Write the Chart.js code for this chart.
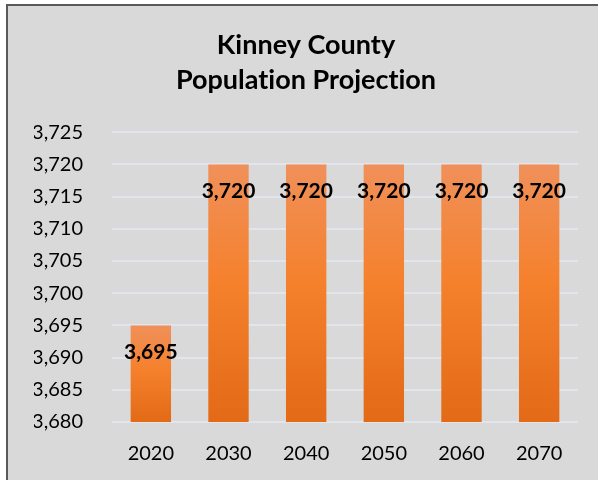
<!DOCTYPE html>
<html>
<head>
<meta charset="utf-8">
<script src="https://cdn.jsdelivr.net/npm/chart.js@4/dist/chart.umd.min.js"></script>
<style>
    html, body { margin: 0; padding: 0; background: #ffffff; overflow: hidden; }
    #frame {
        position: absolute;
        left: 6px;
        top: 4px;
        width: 600px;
        height: 486px;
        border: 2px solid #595959;
        background: #d9d9d9;
    }
    #wrap { position: absolute; left: 0; top: 0; width: 590px; height: 480px; }
</style>
</head>
<body>
<div id="frame"><div id="wrap"><canvas id="chart"></canvas></div></div>
<script>
const years = ['2020', '2030', '2040', '2050', '2060', '2070'];
const population = [3695, 3720, 3720, 3720, 3720, 3720];
// ZWNJ keeps Lato from fusing "ti" into a ligature
const titleLines = ['Kinney County', 'Populat\u200Cion Project\u200Cion'];
const yMin = 3680;
const yMax = 3725;
const yStep = 5;

const fontFamily = 'Lato, "Open Sans", sans-serif';
const fmt = v => v.toLocaleString('en-US');

// orange gradient per bar, lighter at the top
function barFill(ctx) {
    const chart = ctx.chart;
    const yScale = chart.scales.y;
    if (!yScale || ctx.type !== 'data') return '#f58231';
    const top = yScale.getPixelForValue(ctx.raw);
    const bottom = yScale.getPixelForValue(yMin);
    if (!isFinite(top) || !isFinite(bottom) || top === bottom) return '#f58231';
    const g = chart.ctx.createLinearGradient(0, top, 0, bottom);
    g.addColorStop(0, '#f0905a');
    g.addColorStop(0.45, '#f5812d');
    g.addColorStop(1, '#e36a17');
    return g;
}

// value labels inside the bars
const valueLabels = {
    id: 'valueLabels',
    afterDatasetsDraw(chart) {
        const ctx = chart.ctx;
        const meta = chart.getDatasetMeta(0);
        ctx.save();
        ctx.font = 'bold 21px ' + fontFamily;
        ctx.fillStyle = '#000000';
        ctx.textAlign = 'center';
        ctx.textBaseline = 'middle';
        meta.data.forEach((bar, i) => {
            ctx.fillText(fmt(population[i]), bar.x, bar.y + 27);
        });
        ctx.restore();
    }
};

new Chart(document.getElementById('chart'), {
    type: 'bar',
    data: {
        labels: years,
        datasets: [{
            label: 'Population',
            data: population,
            backgroundColor: barFill,
            borderWidth: 0,
            barPercentage: 0.52,
            categoryPercentage: 1.0,
        }],
    },
    options: {
        responsive: true,
        maintainAspectRatio: false,
        animation: false,
        layout: {
            // left padding shifts the title centre to match the original
            padding: { left: 26, right: 20, top: 0, bottom: 0 },
        },
        scales: {
            x: {
                grid: { display: false, drawTicks: false },
                border: { display: false },
                ticks: {
                    color: '#000000',
                    font: { family: fontFamily, size: 20 },
                    padding: 20,
                },
            },
            y: {
                min: yMin,
                max: yMax,
                afterFit(scale) { scale.width = 78; },
                grid: { color: '#e2e5eb', lineWidth: 2, drawTicks: false },
                border: { display: false },
                ticks: {
                    stepSize: yStep,
                    color: '#000000',
                    font: { family: fontFamily, size: 20 },
                    padding: 29,
                    callback: v => fmt(v),
                },
            },
        },
        plugins: {
            legend: { display: false },
            tooltip: { enabled: false },
            title: {
                display: true,
                text: titleLines,
                color: '#000000',
                font: { family: fontFamily, size: 27, weight: 'bold', lineHeight: 1.3 },
                padding: { top: 22, bottom: 34 },
            },
        },
    },
    plugins: [valueLabels],
});
</script>
</body>
</html>
